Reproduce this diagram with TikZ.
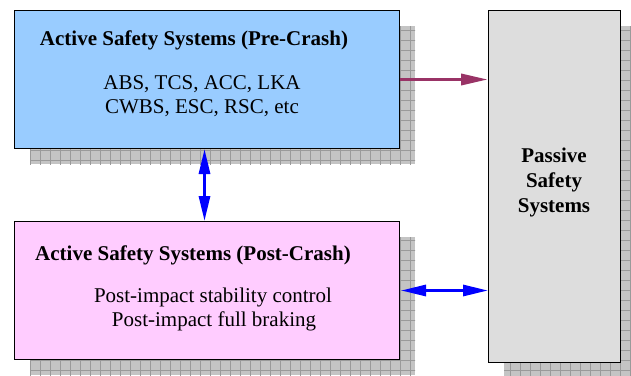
\documentclass[tikz,border=0pt]{standalone}
\usepackage{fontspec}
\setmainfont{Liberation Serif}
\usetikzlibrary{arrows.meta}
\definecolor{preblue}{HTML}{99CCFF}
\definecolor{postpink}{HTML}{FFCCFF}
\definecolor{passgray}{HTML}{DDDDDD}
\definecolor{shadowfill}{HTML}{C4C4C4}
\definecolor{shadowline}{HTML}{9A9A9A}
\definecolor{maroonarrow}{HTML}{993366}
\begin{document}
\begin{tikzpicture}[x=1pt,y=-1pt,
  boxstyle/.style={draw=black,line width=1pt,rectangle,inner sep=0pt},
  shadowgrid/.style={draw=shadowline,line width=0.6pt},
  txt/.style={font=\fontsize{21}{25}\selectfont,anchor=base,inner sep=0pt},
  bold/.style={txt,font=\fontsize{21}{25}\selectfont\bfseries},
  linkred/.style={draw=maroonarrow,line width=3.5pt,-{Triangle[length=27pt,width=11pt]}},
  linkblue/.style={draw=blue,line width=3pt,{Triangle[length=25pt,width=11pt]}-{Triangle[length=25pt,width=11pt]}},
]
\useasboundingbox (0,0) rectangle (631,375);
% shadows
\foreach \a/\b in {{(30,26)}/{(415,164)},{(30,237)}/{(415,375)},{(504,26)}/{(636,378)}}{
  \begin{scope}
    \clip \a rectangle \b;
    \fill[shadowfill] \a rectangle \b;
    \draw[shadowgrid,step=10pt] (0,0) grid (640,380);
  \end{scope}
}
% boxes
\node[boxstyle,fill=preblue,minimum width=385pt,minimum height=138pt,anchor=north west] (pre) at (14,10) {};
\node[boxstyle,fill=postpink,minimum width=385pt,minimum height=138pt,anchor=north west] (post) at (14,221) {};
\node[boxstyle,fill=passgray,minimum width=132pt,minimum height=352pt,anchor=north west] (pass) at (488,10) {};
% texts
\node[bold] (pret) at (194,45) {Active Safety Systems (Pre-Crash)};
\node[txt] (pre1) at (202,89) {ABS, TCS, ACC, LKA};
\node[txt] (pre2) at (202,113) {CWBS, ESC, RSC, etc};
\node[bold] (postt) at (193,260) {Active Safety Systems (Post-Crash)};
\node[txt] (post1) at (213,302) {Post-impact stability control};
\node[txt] (post2) at (214,326) {Post-impact full braking};
\node[bold] (pass1) at (554,162) {Passive};
\node[bold] (pass2) at (554,187) {Safety};
\node[bold] (pass3) at (554,212) {Systems};
% connectors
\draw[linkred] (pre.east) -- (pre.east -| pass.west);
\draw[linkblue] ([xshift=1pt]post.east) -- (post.east -| pass.west);
\draw[linkblue] ([xshift=-2.5pt]pre.south) -- ([xshift=-2.5pt]post.north);
\end{tikzpicture}
\end{document}
